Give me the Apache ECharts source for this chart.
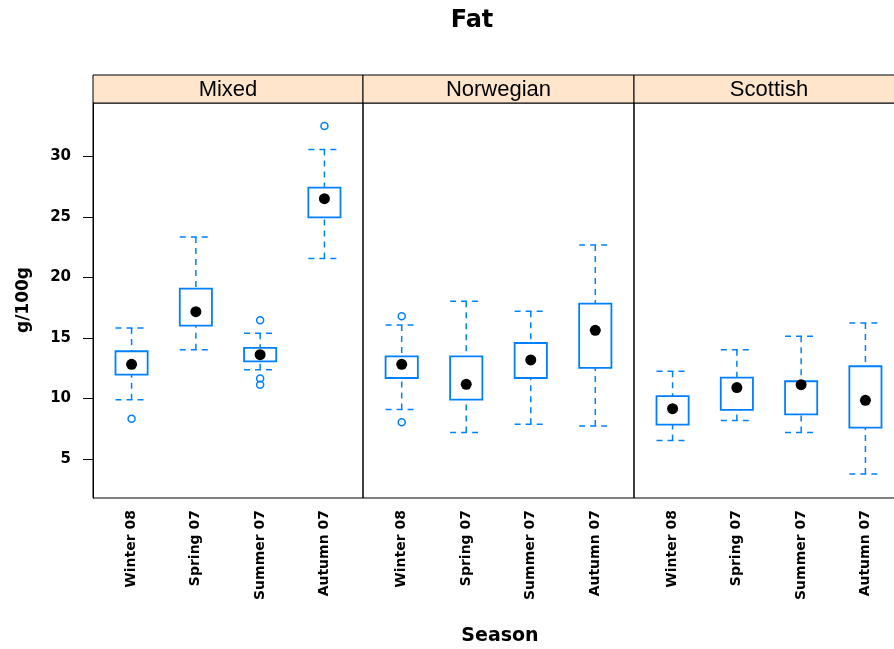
<!DOCTYPE html>
<html>
<head>
<meta charset="utf-8">
<script src="https://cdn.jsdelivr.net/npm/echarts@6/dist/echarts.min.js"></script>
<style>
  html, body { margin: 0; padding: 0; background: #fff; }
  #chart { width: 894px; height: 649px; }
</style>
</head>
<body>
<div id="chart"></div>
<script>
// ---- data ----
const categories = ['Winter 08', 'Spring 07', 'Summer 07', 'Autumn 07'];
const panelNames = ['Mixed', 'Norwegian', 'Scottish'];
// each row: [lower whisker, Q1, median, Q3, upper whisker]
const mixedStats = [
  [9.90, 11.97, 12.82, 13.90, 15.82],
  [14.03, 16.01, 17.17, 19.07, 23.34],
  [12.38, 13.07, 13.62, 14.17, 15.38],
  [21.55, 24.96, 26.50, 27.41, 30.55]
];
const norwegianStats = [
  [9.08, 11.69, 12.82, 13.48, 16.07],
  [7.18, 9.90, 11.17, 13.48, 18.02],
  [7.87, 11.69, 13.18, 14.58, 17.20],
  [7.73, 12.52, 15.63, 17.83, 22.68]
];
const scottishStats = [
  [6.52, 7.84, 9.16, 10.20, 12.24],
  [8.17, 9.05, 10.90, 11.72, 14.03],
  [7.18, 8.69, 11.14, 11.42, 15.13],
  [3.76, 7.59, 9.85, 12.66, 16.23]
];
// outliers: [category index (1-based), value]
const mixedOutliers = [[1, 8.33], [3, 16.46], [3, 11.64], [3, 11.14], [4, 32.50]];
const norwegianOutliers = [[1, 16.79], [1, 8.03]];
const scottishOutliers = [];
const yTicks = [5, 10, 15, 20, 25, 30];
const yMin = 1.78, yMax = 34.40;

// ---- build ----
const statsByPanel = [mixedStats, norwegianStats, scottishStats];
const outliersByPanel = [mixedOutliers, norwegianOutliers, scottishOutliers];
const BLUE = '#0080ff';
const FONT = 'DejaVu Sans';

const gridDefs = [
  { left: 93, top: 103, width: 270, height: 395 },
  { left: 363, top: 103, width: 271, height: 395 },
  { left: 634, top: 103, width: 270, height: 395 }
];

function renderBox(params, api) {
  const x = api.value(0);
  const lo = api.value(1), q1 = api.value(2), q3 = api.value(4), hi = api.value(5);
  const hw = 0.25;
  const pLo = api.coord([x, lo]), pQ1 = api.coord([x, q1]);
  const pQ3 = api.coord([x, q3]), pHi = api.coord([x, hi]);
  const xl = api.coord([x - hw, q1])[0], xr = api.coord([x + hw, q1])[0];
  const dash = { stroke: BLUE, lineWidth: 1.5, lineDash: [6, 5], fill: null };
  return {
    type: 'group',
    children: [
      { type: 'line', shape: { x1: pHi[0], y1: pHi[1], x2: pQ3[0], y2: pQ3[1] }, style: dash },
      { type: 'line', shape: { x1: xl, y1: pHi[1], x2: xr, y2: pHi[1] }, style: dash },
      { type: 'line', shape: { x1: pLo[0], y1: pLo[1], x2: pQ1[0], y2: pQ1[1] }, style: dash },
      { type: 'line', shape: { x1: xl, y1: pLo[1], x2: xr, y2: pLo[1] }, style: dash },
      { type: 'rect', shape: { x: xl, y: pQ3[1], width: xr - xl, height: pQ1[1] - pQ3[1] },
        style: { fill: '#fff', stroke: BLUE, lineWidth: 1.8 } }
    ]
  };
}

const grid = [], xAxis = [], yAxis = [], series = [], graphic = [];
gridDefs.forEach((g, i) => {
  grid.push(Object.assign({
    show: true, borderColor: '#000', borderWidth: 1, backgroundColor: 'transparent',
    containLabel: false, outerBoundsMode: 'none'
  }, g));
  xAxis.push({
    type: 'value', gridIndex: i, min: 0.4, max: 4.6,
    axisLine: { show: false }, axisTick: { show: false }, splitLine: { show: false },
    axisLabel: {
      customValues: [1, 2, 3, 4],
      formatter: v => categories[Math.round(v) - 1],
      rotate: 90, margin: 12,
      fontFamily: FONT, fontWeight: 'bold', fontSize: 14, color: '#000'
    }
  });
  yAxis.push({
    type: 'value', gridIndex: i, min: yMin, max: yMax,
    axisLine: { show: i === 0, lineStyle: { color: '#000', width: 1 } },
    splitLine: { show: false },
    axisTick: { show: i === 0, customValues: yTicks, length: 10, lineStyle: { color: '#000', width: 1 } },
    axisLabel: {
      show: i === 0, customValues: yTicks, margin: 22,
      fontFamily: FONT, fontWeight: 'bold', fontSize: 15, color: '#000'
    }
  });
  const stats = statsByPanel[i];
  series.push({
    type: 'custom', xAxisIndex: i, yAxisIndex: i, z: 2, clip: false,
    renderItem: renderBox,
    encode: { x: 0, y: [1, 2, 3, 4, 5] },
    data: stats.map((s, k) => [k + 1].concat(s))
  });
  series.push({
    type: 'scatter', xAxisIndex: i, yAxisIndex: i, z: 3,
    symbol: 'circle', symbolSize: 7,
    itemStyle: { color: 'rgba(0,0,0,0)', borderColor: BLUE, borderWidth: 1.5, opacity: 1 },
    data: outliersByPanel[i], silent: true
  });
  series.push({
    type: 'scatter', xAxisIndex: i, yAxisIndex: i, z: 4,
    symbol: 'circle', symbolSize: 11,
    itemStyle: { color: '#000', opacity: 1 },
    data: stats.map((s, k) => [k + 1, s[2]]), silent: true
  });
  // strip
  graphic.push({
    type: 'rect', x: g.left, y: 75,
    shape: { x: 0, y: 0, width: g.width, height: 28 },
    style: { fill: '#ffe5cc', stroke: '#000', lineWidth: 1 }
  });
  graphic.push({
    type: 'text', x: g.left + g.width / 2, y: 90,
    style: { text: panelNames[i], fill: '#000', font: '22px "Liberation Sans"', textAlign: 'center', textVerticalAlign: 'middle' }
  });
});

graphic.push({
  type: 'text', x: 472, y: 21,
  style: { text: 'Fat', fill: '#000', font: 'bold 24px "DejaVu Sans"', textAlign: 'center', textVerticalAlign: 'middle' }
});
graphic.push({
  type: 'text', x: 500, y: 636,
  style: { text: 'Season', fill: '#000', font: 'bold 19px "DejaVu Sans"', textAlign: 'center', textVerticalAlign: 'middle' }
});
graphic.push({
  type: 'text', x: 24, y: 300, rotation: Math.PI / 2,
  style: { text: 'g/100g', fill: '#000', font: 'bold 17px "DejaVu Sans"', textAlign: 'center', textVerticalAlign: 'middle' }
});

const chart = echarts.init(document.getElementById('chart'), null, { renderer: 'canvas' });
chart.setOption({
  animation: false,
  backgroundColor: '#fff',
  grid, xAxis, yAxis, series, graphic
});
</script>
</body>
</html>
